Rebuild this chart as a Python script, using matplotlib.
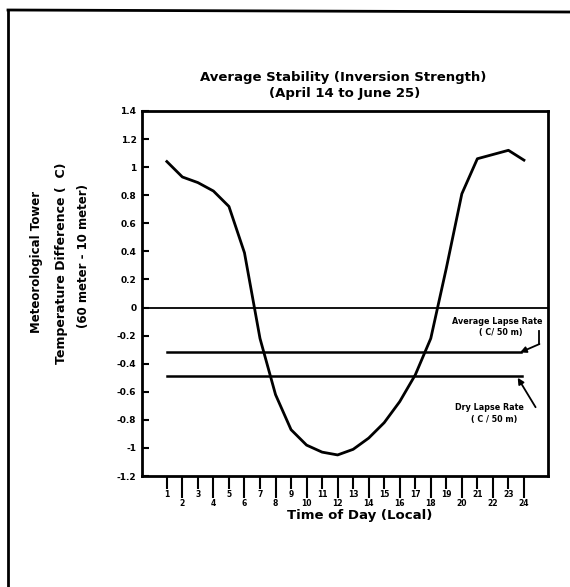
import matplotlib
matplotlib.use("Agg")
import matplotlib.pyplot as plt
from matplotlib.lines import Line2D

hours = list(range(1, 25))
temp_diff = [1.04, 0.93, 0.89, 0.83, 0.72, 0.39, -0.22, -0.62, -0.87, -0.98, -1.03, -1.05,
             -1.01, -0.93, -0.82, -0.67, -0.48, -0.22, 0.28, 0.81, 1.06, 1.09, 1.12, 1.05]
avg_lapse = -0.32
dry_lapse = -0.49
yticks = [1.4, 1.2, 1, 0.8, 0.6, 0.4, 0.2, 0, -0.2, -0.4, -0.6, -0.8, -1, -1.2]
ytick_labels = ["1.4", "1.2", "1", "0.8", "0.6", "0.4", "0.2", "0", "-0.2", "-0.4",
                "-0.6", "-0.8", "-1", "-1.2"]

W, H = 570, 587
fig = plt.figure(figsize=(W / 100, H / 100), dpi=100)
ax = fig.add_axes([142 / W, 1 - 476 / H, (548 - 142) / W, (476 - 111) / H])

ax.plot(hours, temp_diff, color="black", lw=2.0, solid_joinstyle="round")
ax.axhline(0, color="black", lw=1.3)
ax.plot([hours[0], 23.8], [avg_lapse, avg_lapse], color="black", lw=1.8)
ax.plot([hours[0], 23.9], [dry_lapse, dry_lapse], color="black", lw=1.8)

ax.set_xlim(-0.6, 25.55)
ax.set_ylim(-1.2, 1.4)
ax.set_yticks(yticks)
ax.set_yticklabels(ytick_labels, fontsize=6.5, fontweight="bold")
ax.tick_params(axis="y", direction="in", length=5, width=1.5, pad=4)

odd = [h for h in hours if h % 2 == 1]
even = [h for h in hours if h % 2 == 0]
ax.set_xticks(odd)
ax.set_xticklabels([str(h) for h in odd], fontsize=5.5, fontweight="bold")
ax.set_xticks(even, minor=True)
ax.set_xticklabels([str(h) for h in even], minor=True, fontsize=5.5, fontweight="bold")
ax.tick_params(axis="x", which="major", direction="out", length=9, width=1.5, pad=1)
ax.tick_params(axis="x", which="minor", direction="out", length=16, width=1.5, pad=0.5)

for s in ax.spines.values():
    s.set_linewidth(2.0)

fig.text(343 / W, 1 - 78 / H, "Average Stability (Inversion Strength)", ha="center", va="center",
         fontsize=9.5, fontweight="bold")
fig.text(345 / W, 1 - 94 / H, "(April 14 to June 25)", ha="center", va="center",
         fontsize=9.5, fontweight="bold")
fig.text(360 / W, 1 - 515 / H, "Time of Day (Local)", ha="center", va="center",
         fontsize=9.5, fontweight="bold")

fig.text(37 / W, 1 - 262 / H, "Meteorological Tower", rotation=90, ha="center", va="center",
         fontsize=8.5, fontweight="bold")
fig.text(61 / W, 1 - 263 / H, "Temperature Difference (  C)", rotation=90, ha="center", va="center",
         fontsize=9, fontweight="bold")
fig.text(84 / W, 1 - 256 / H, "(60 meter - 10 meter)", rotation=90, ha="center", va="center",
         fontsize=8.5, fontweight="bold")

# Average lapse rate label and arrow
ax.text(22.3, -0.10, "Average Lapse Rate", ha="center", va="center", fontsize=5.8, fontweight="bold")
ax.text(22.5, -0.18, "( C/ 50 m)", ha="center", va="center", fontsize=5.8, fontweight="bold")
ax.plot([25.0, 25.0], [-0.17, -0.26], color="black", lw=1.3)
ax.annotate("", xy=(23.75, avg_lapse), xytext=(25.0, -0.26),
            arrowprops=dict(arrowstyle="-|>", color="black", lw=1.3, shrinkA=0, shrinkB=0,
                            mutation_scale=9))

# Dry lapse rate label and arrow
ax.text(21.8, -0.71, "Dry Lapse Rate", ha="center", va="center", fontsize=5.8, fontweight="bold")
ax.text(22.1, -0.80, "( C / 50 m)", ha="center", va="center", fontsize=5.8, fontweight="bold")
ax.annotate("", xy=(23.6, dry_lapse - 0.01), xytext=(24.75, -0.71),
            arrowprops=dict(arrowstyle="-|>", color="black", lw=1.3, shrinkA=0, shrinkB=0,
                            mutation_scale=9))

# page frame
fig.add_artist(Line2D([8 / W, 8 / W], [0, 1 - 10 / H], transform=fig.transFigure, color="black", lw=2))
fig.add_artist(Line2D([8 / W, 1], [1 - 10 / H, 1 - 12 / H], transform=fig.transFigure, color="black", lw=2))

fig.savefig("out.png", dpi=100)
